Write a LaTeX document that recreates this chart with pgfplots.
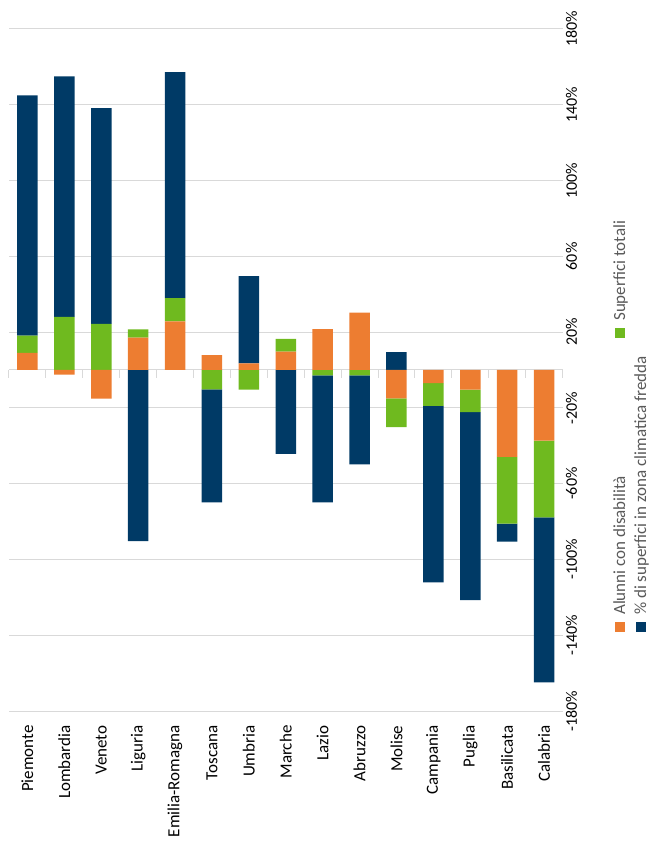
\documentclass[border=0pt]{standalone}
\usepackage{fontspec}
\setmainfont{Carlito}
\usepackage{pgfplots}
\usepackage{pgfplotstable}
\pgfplotsset{compat=1.18}

\definecolor{cOrange}{HTML}{ED7D31}
\definecolor{cGreen}{HTML}{6FBA1F}
\definecolor{cBlue}{HTML}{003A66}
\definecolor{gridgray}{HTML}{D9D9D9}
\definecolor{legtext}{HTML}{595959}

% signed values; pgfplots stacks positive and negative parts apart
\pgfplotstableread{
x  alunni  superfici  fredda
0  9.1     9.0        126.9
1  -2.5    28.1       126.9
2  -15.1   24.3       113.9
3  17.1    4.4        -90.3
4  25.7    12.3       119.2
5  7.9     -10.2      -59.7
6  3.5     -10.4      46.1
7  9.7     6.7        -44.3
8  21.6    -2.8       -67.1
9  30.3    -2.8       -47.0
10 -15.0   -15.2      9.5
11 -6.9    -12.1      -93.1
12 -10.4   -11.9      -99.2
13 -45.9   -35.2      -9.5
14 -37.3   -40.5      -87.1
}\regioni

\newcommand{\legsq}[1]{\textcolor{#1}{\rule{10pt}{10pt}}\hspace{7pt}}

\begin{document}
\begin{tikzpicture}
\useasboundingbox (-9pt,-130pt) rectangle (643pt,711pt);
% zero line with the category separators
\begin{axis}[
    at={(0,0)}, anchor=south west,
    scale only axis, width=553.5pt, height=682pt,
    xmin=-0.5, xmax=14.5, ymin=-180, ymax=180,
    axis x line*=middle, axis y line=none,
    x axis line style={draw=gridgray, line width=1pt},
    xtick={-0.5,0.5,...,14.5}, xticklabels={},
    tick align=outside, major tick length=8pt,
    xtick style={draw=gridgray, line width=1pt},
]
\end{axis}
\begin{axis}[
    at={(0,0)}, anchor=south west,
    scale only axis, width=553.5pt, height=682pt,
    xmin=-0.5, xmax=14.5, ymin=-180, ymax=180,
    enlarge x limits=false,
    ybar stacked, bar width=20.5pt,
    axis line style={draw=none},
    xtick={0,...,14},
    xticklabels={Piemonte,Lombardia,Veneto,Liguria,Emilia-Romagna,Toscana,Umbria,Marche,Lazio,Abruzzo,Molise,Campania,Puglia,Basilicata,Calabria},
    xticklabel shift=11pt,
    x tick label style={rotate=90, anchor=east, font=\fontsize{17}{20}\selectfont},
    ytick={-180,-140,...,180},
    yticklabels={-180\%,-140\%,-100\%,-60\%,-20\%,20\%,60\%,100\%,140\%,180\%},
    yticklabel pos=right,
    y tick label style={rotate=90, anchor=north, font=\fontsize{16}{19}\selectfont},
    major tick length=0pt,
    ymajorgrids, grid style={draw=gridgray, line width=1pt},
]
\addplot[fill=cOrange, draw=none] table[x=x, y=alunni] {\regioni};
\addplot[fill=cGreen, draw=none] table[x=x, y=superfici] {\regioni};
\addplot[fill=cBlue, draw=none] table[x=x, y=fredda] {\regioni};
\end{axis}
% legend, turned like the rest of the chart
\node[rotate=90, anchor=north west, inner sep=0pt, text=legtext,
      font=\fontsize{17}{20}\selectfont] at (602pt,79pt) {%
  \begin{tabular}{@{}l@{}l@{}}
    \makebox[294pt][l]{\legsq{cOrange}Alunni con disabilità} & \legsq{cGreen}Superfici totali\\[1pt]
    \legsq{cBlue}\% di superfici in zona climatica fredda & \\
  \end{tabular}};
\end{tikzpicture}
\end{document}
